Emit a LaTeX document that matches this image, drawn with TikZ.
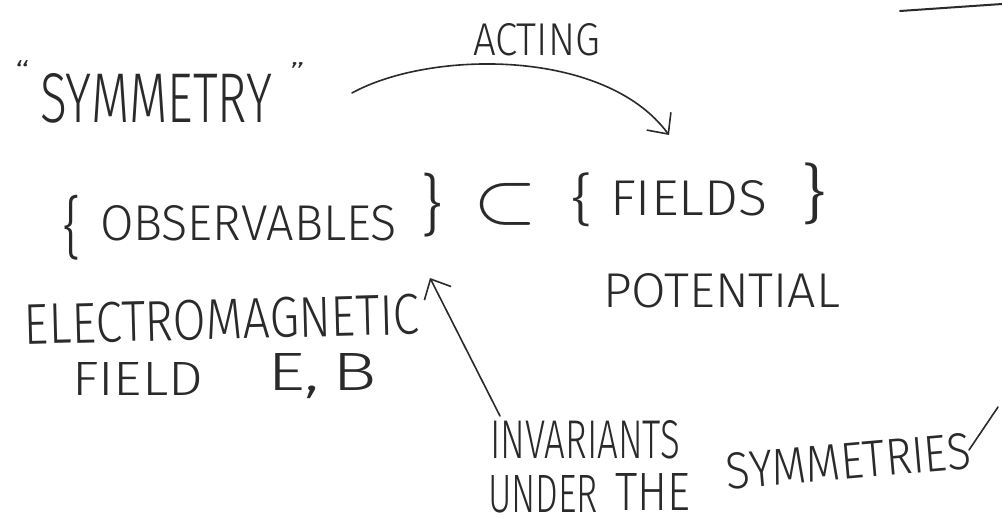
\documentclass[tikz,border=0pt]{standalone}
\usepackage{fontspec}
\usepackage{graphicx}
\setmainfont{Fira Sans}[UprightFont={* Light}]
\usetikzlibrary{arrows.meta}
\definecolor{ink}{HTML}{2A2A2A}
\newcommand\hw[3]{\resizebox{#1pt}{#2pt}{#3}}
\newcommand\hwt[3]{\resizebox*{#1pt}{#2pt}{#3}}
\begin{document}
\begin{tikzpicture}[x=1pt,y=-1pt,
  txt/.style={anchor=north west,inner sep=0pt,outer sep=0pt,text=ink},
  pen/.style={draw=ink,line width=1.6pt,line cap=round,line join=round},
  barb/.style={-{Straight Barb[length=16pt,width=30pt,line width=1.6pt]}}]
\useasboundingbox (0,0) rectangle (1002,529);
\fill[white] (0,0) rectangle (1002,529);
% top texts
\node[txt] (oq) at (15,60) {\hw{15}{22}{\textquotedblleft}};
\node[txt] (sym) at (40,73) {\hw{232}{49}{SYMMETRY}};
\node[txt] (cq) at (290,62) {\hw{15}{20}{\textquotedblright}};
\node[txt] (acting) at (473,23) {\hw{127}{32}{ACTING}};
% main line
\node[txt] (lb1) at (63,195) {\hwt{19}{65}{\{}};
\node[txt] (obs) at (100,205) {\hw{297}{35}{OBSERVABLES}};
\node[txt] (rb1) at (420,173) {\hwt{23}{64}{\}}};
\node[txt] (sub) at (473,183) {\hw{64}{39}{\(\subset\)}};
\node[txt] (lb2) at (570,173) {\hwt{23}{54}{\{}};
\node[txt] (fields) at (610,180) {\hw{157}{35}{FIELDS}};
\node[txt] (rb2) at (800,163) {\hwt{27}{62}{\}}};
\node[txt] (pot) at (603,273) {\hw{237}{34}{POTENTIAL}};
% left lower
\node[txt,anchor=south west,rotate=1.5] (em) at (25,345) {\hw{395}{40}{ELECTROMAGNETIC}};
\node[txt] (field) at (72,362) {\hw{131}{33}{FIELD}};
\node[txt] (eb) at (267,353) {\hw{110}{37}{E,\,B}};
% right lower
\node[txt] (inv) at (490,420) {\hw{190}{38}{INVARIANTS}};
\node[txt] (under) at (488,475) {\hw{110}{37}{UNDER}};
\node[txt] (the) at (615,473) {\hw{75}{37}{THE}};
\node[txt,anchor=south west,rotate=5] (syms) at (728,490) {\hw{245}{36}{SYMMETRIES}};
% connectors
\coordinate (c1s) at (352,93);
\coordinate (c1e) at (669,135);
\draw[pen,barb] (c1s) .. controls (430,50) and (605,48) .. (c1e);
\coordinate (c2s) at (500,416);
\coordinate (c2e) at (430,278);
\draw[pen,barb] (c2s) -- (c2e);
\coordinate (fl1) at (969,450);
\coordinate (fl2) at (998,407);
\draw[pen] (fl1) -- (fl2);
\coordinate (tr1) at (900,11);
\coordinate (tr2) at (1002,4);
\draw[pen,line width=2pt] (tr1) -- (tr2);
\end{tikzpicture}
\end{document}
